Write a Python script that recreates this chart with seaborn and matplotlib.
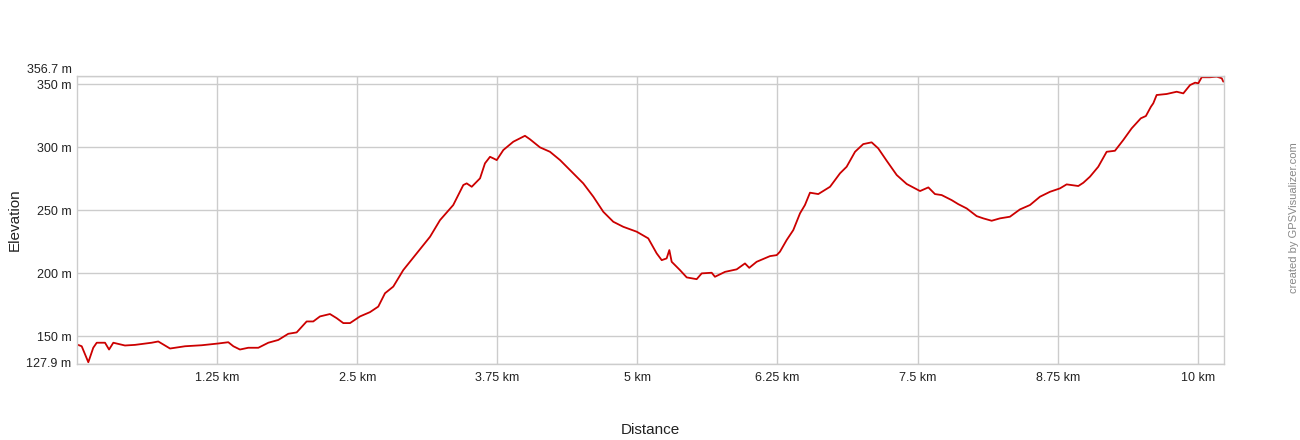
import matplotlib
matplotlib.use("Agg")
import matplotlib.pyplot as plt
import seaborn as sns
import pandas as pd

distance_km = [0.0, 0.042, 0.101, 0.145, 0.176, 0.250, 0.286, 0.324, 0.428, 0.518,
               0.666, 0.725, 0.830, 0.964, 1.113, 1.261, 1.350, 1.395, 1.454, 1.528,
               1.618, 1.707, 1.796, 1.885, 1.960, 2.049, 2.108, 2.168, 2.257, 2.317,
               2.376, 2.436, 2.525, 2.614, 2.688, 2.748, 2.822, 2.911, 3.031, 3.150,
               3.239, 3.357, 3.447, 3.477, 3.522, 3.596, 3.640, 3.685, 3.714, 3.745,
               3.804, 3.893, 3.953, 3.997, 4.042, 4.131, 4.220, 4.310, 4.428, 4.517,
               4.607, 4.666, 4.696, 4.785, 4.874, 4.994, 5.097, 5.172, 5.217, 5.261,
               5.285, 5.306, 5.380, 5.440, 5.529, 5.574, 5.663, 5.692, 5.782, 5.886,
               5.960, 5.998, 6.064, 6.183, 6.243, 6.272, 6.332, 6.391, 6.451, 6.495,
               6.540, 6.614, 6.719, 6.808, 6.867, 6.942, 7.015, 7.090, 7.149, 7.224,
               7.314, 7.403, 7.522, 7.596, 7.655, 7.715, 7.804, 7.863, 7.938, 8.027,
               8.086, 8.161, 8.235, 8.324, 8.413, 8.503, 8.592, 8.681, 8.770, 8.830,
               8.934, 8.979, 9.038, 9.112, 9.187, 9.261, 9.335, 9.410, 9.492, 9.537,
               9.582, 9.603, 9.633, 9.722, 9.812, 9.871, 9.931, 9.976, 10.005, 10.035,
               10.109, 10.169, 10.214, 10.228]

elevation_m = [143.4, 142.0, 129.3, 140.8, 144.8, 144.8, 139.4, 144.8, 142.6, 143.1,
               144.8, 145.8, 140.2, 142.0, 142.8, 144.2, 145.2, 142.0, 139.4, 140.8,
               140.8, 144.8, 147.0, 151.9, 153.0, 161.7, 161.7, 165.7, 167.6, 164.3,
               160.4, 160.4, 165.7, 169.1, 173.5, 184.1, 189.4, 202.5, 215.8, 229.0,
               242.2, 254.2, 270.1, 271.4, 268.7, 275.4, 287.3, 292.5, 291.3, 289.9,
               297.9, 304.5, 307.2, 309.2, 306.4, 300.0, 296.5, 289.9, 279.4, 271.4,
               260.8, 252.8, 248.8, 240.9, 236.9, 233.0, 227.7, 215.8, 210.4, 211.8,
               218.4, 209.1, 202.5, 196.7, 195.3, 199.9, 200.4, 197.2, 201.1, 203.1,
               207.8, 204.3, 209.1, 213.6, 214.4, 217.1, 226.4, 234.3, 247.6, 254.2,
               264.0, 262.9, 268.7, 279.4, 284.6, 296.5, 302.6, 304.0, 299.2, 289.4,
               278.0, 270.9, 265.3, 268.2, 262.9, 262.1, 258.1, 254.9, 251.5, 245.4,
               243.6, 241.7, 243.6, 244.9, 250.7, 254.2, 260.8, 264.7, 267.4, 270.6,
               269.3, 271.9, 276.7, 284.6, 296.5, 297.3, 305.8, 315.1, 323.1, 324.9,
               332.3, 335.0, 341.6, 342.4, 344.2, 342.9, 349.5, 351.4, 350.9, 355.7,
               355.7, 356.2, 354.9, 352.2]

x_ticks = [1.25, 2.5, 3.75, 5, 6.25, 7.5, 8.75, 10]
x_tick_labels = ["1.25 km", "2.5 km", "3.75 km", "5 km", "6.25 km", "7.5 km", "8.75 km", "10 km"]
y_ticks = [127.9, 150, 200, 250, 300, 350, 356.7]
y_tick_labels = ["127.9 m", "150 m", "200 m", "250 m", "300 m", "350 m", "356.7 m"]

sns.set_style("white")
plt.rcParams["font.family"] = ["Liberation Sans", "DejaVu Sans"]

df = pd.DataFrame({"Distance": distance_km, "Elevation": elevation_m})

fig = plt.figure(figsize=(13, 4.4), dpi=100)
ax = fig.add_axes([77 / 1300, 1 - 364 / 440, (1224 - 77) / 1300, (364 - 76) / 440])

sns.lineplot(data=df, x="Distance", y="Elevation", ax=ax, color="#cc0000", linewidth=1.3)

ax.set_xlim(0, 10.234)
ax.set_ylim(127.9, 356.7)
ax.set_xticks(x_ticks)
ax.set_xticklabels(x_tick_labels)
ax.set_yticks(y_ticks)
ax.set_yticklabels(y_tick_labels)
ax.tick_params(axis="both", length=0, labelsize=9, colors="#222222")
ax.tick_params(axis="x", pad=6)
ax.tick_params(axis="y", pad=4)
# keep the top label clear of the 350 m label
ax.get_yticklabels()[-1].set_verticalalignment("bottom")
ax.get_yticklabels()[0].set_verticalalignment("center")
ax.grid(True, color="#cccccc", linewidth=1)
ax.set_axisbelow(True)
for s in ax.spines.values():
    s.set_color("#cccccc")
    s.set_linewidth(1)

ax.set_xlabel("")
ax.set_ylabel("")
fig.text(650 / 1300, 1 - 430 / 440, "Distance", ha="center", va="center", fontsize=11, color="#222222")
fig.text(15 / 1300, 1 - 220 / 440, "Elevation", ha="center", va="center", rotation=90, fontsize=11, color="#222222")
fig.text(1294 / 1300, 1 - 218 / 440, "created by GPSVisualizer.com", ha="center", va="center",
         rotation=90, fontsize=8, color="#888888")

fig.savefig("out.png", dpi=100)
